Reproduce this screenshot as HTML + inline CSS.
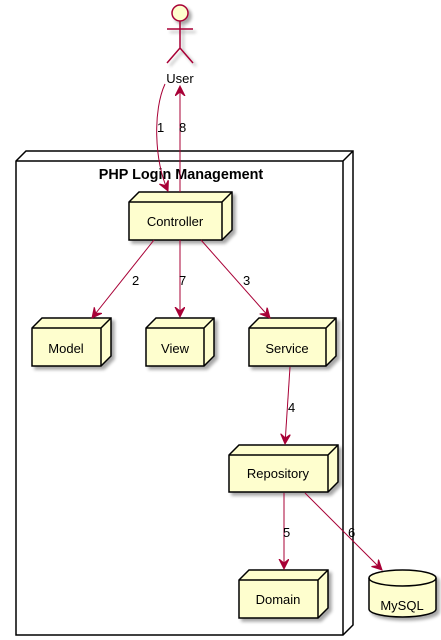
<!DOCTYPE html>
<html><head><meta charset="utf-8"><style>
html,body{margin:0;padding:0;background:#fff;}
svg{display:block;}
text{font-family:"Liberation Sans",sans-serif;font-size:13px;fill:#000;}
</style></head><body>
<svg width="441" height="640" viewBox="0 0 441 640" xmlns="http://www.w3.org/2000/svg">
<defs>
<filter id="sh" x="-20%" y="-20%" width="150%" height="150%"><feGaussianBlur in="SourceAlpha" stdDeviation="1.5"/><feOffset dx="3" dy="3"/><feComponentTransfer><feFuncA type="linear" slope="0.35"/></feComponentTransfer><feMerge><feMergeNode/><feMergeNode in="SourceGraphic"/></feMerge></filter>
<marker id="ar" markerWidth="12" markerHeight="12" refX="10" refY="5" orient="auto" markerUnits="userSpaceOnUse"><path d="M0,0 L10,5 L0,10 L4,5 Z" fill="#A80036" stroke="#A80036"/></marker>
</defs>
<g fill="#fff" stroke="#000" stroke-width="1.5">
<path d="M16,161 L26,151 L353,151 L353,625 L343,635 L16,635 Z"/>
<path d="M16,161 L343,161 L343,635 M343,161 L353,151" fill="none"/>
</g>
<text x="181" y="179" text-anchor="middle" style="font-weight:bold;font-size:14.4px">PHP Login Management</text>

<g fill="#FEFECE" stroke="#000" stroke-width="1.5" filter="url(#sh)">
<path d="M129,202 L139,192 L232,192 L232,230 L222,240 L129,240 Z"/>
<path d="M32,328 L42,318 L111,318 L111,356 L101,366 L32,366 Z"/>
<path d="M146,328 L156,318 L214,318 L214,356 L204,366 L146,366 Z"/>
<path d="M249,328 L259,318 L336,318 L336,356 L326,366 L249,366 Z"/>
<path d="M229,455 L239,445 L338,445 L338,482 L328,492 L229,492 Z"/>
<path d="M239,580 L249,570 L328,570 L328,608 L318,618 L239,618 Z"/>
</g>
<g fill="none" stroke="#000" stroke-width="1.5">
<path d="M129,202 L222,202 L222,240 M222,202 L232,192"/>
<path d="M32,328 L101,328 L101,366 M101,328 L111,318"/>
<path d="M146,328 L204,328 L204,366 M204,328 L214,318"/>
<path d="M249,328 L326,328 L326,366 M326,328 L336,318"/>
<path d="M229,455 L328,455 L328,492 M328,455 L338,445"/>
<path d="M239,580 L318,580 L318,618 M318,580 L328,570"/>
</g>
<text x="175" y="226" text-anchor="middle">Controller</text>
<text x="66" y="353" text-anchor="middle">Model</text>
<text x="175" y="353" text-anchor="middle">View</text>
<text x="287" y="353" text-anchor="middle">Service</text>
<text x="278" y="478" text-anchor="middle">Repository</text>
<text x="278" y="604" text-anchor="middle">Domain</text>

<g fill="#FEFECE" stroke="#000" stroke-width="1.5" filter="url(#sh)">
<path d="M369,578 A33.5,8 0 0 1 436,578 L436,609 A33.5,8 0 0 1 369,609 Z"/>
</g>
<path d="M369,578 A33.5,8 0 0 0 436,578" fill="none" stroke="#000" stroke-width="1.5"/>
<text x="402" y="610" text-anchor="middle">MySQL</text>

<g fill="none" stroke="#A80036" stroke-width="1.5" filter="url(#sh)">
<circle cx="180" cy="13" r="8" fill="#FEFECE"/>
<path d="M180,21 L180,48 M167,29 L193,29 M180,48 L167,63 M180,48 L193,63"/>
</g>
<text x="180" y="83" text-anchor="middle">User</text>

<g fill="none" stroke="#A80036" stroke-width="1" marker-end="url(#ar)">
<path d="M165,84 C153,110 154,160 168,191"/>
<path d="M180,192 L180,86"/>
<path d="M154,240 L92,318"/>
<path d="M180,240 L180,317"/>
<path d="M201,240 L270,318"/>
<path d="M290,367 L285,444"/>
<path d="M284,493 L284,569"/>
<path d="M305,493 L382,570"/>
</g>
<text x="157" y="132">1</text>
<text x="179" y="132">8</text>
<text x="132" y="285">2</text>
<text x="179" y="285">7</text>
<text x="243" y="285">3</text>
<text x="288" y="412">4</text>
<text x="283" y="537">5</text>
<text x="348" y="537">6</text>
</svg>
</body></html>
